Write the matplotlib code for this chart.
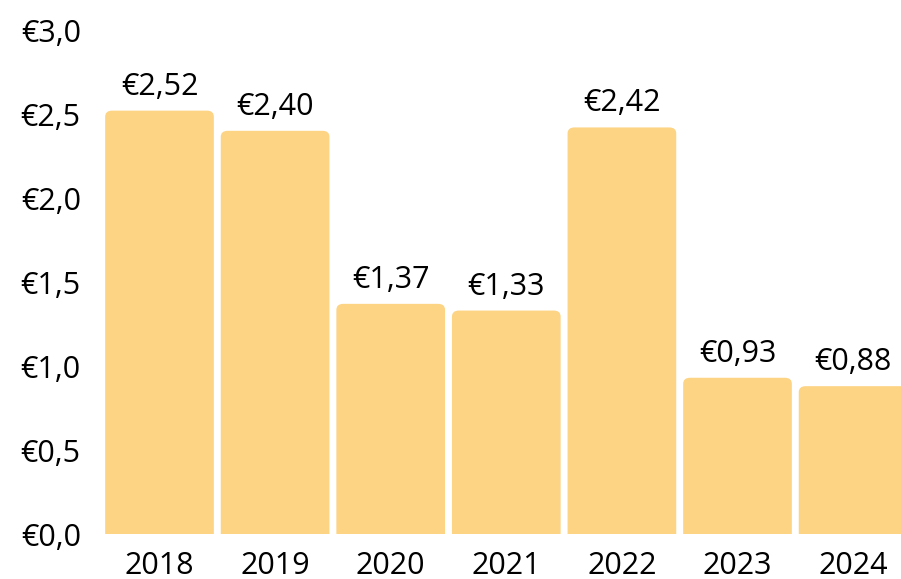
import matplotlib
matplotlib.use('Agg')
import matplotlib.pyplot as plt
from matplotlib.patches import FancyBboxPatch

# yearly values in euro
years = ['2018', '2019', '2020', '2021', '2022', '2023', '2024']
values = [2.52, 2.40, 1.37, 1.33, 2.42, 0.93, 0.88]
yticks = [0.0, 0.5, 1.0, 1.5, 2.0, 2.5, 3.0]

bar_color = '#FDD384'
plt.rcParams['font.family'] = ['Open Sans', 'DejaVu Sans']
plt.rcParams['font.size'] = 22


def euro(v, decimals):
    return '€' + f'{v:.{decimals}f}'.replace('.', ',')


fig = plt.figure(figsize=(9.01, 5.79), dpi=100)
ax = fig.add_axes([101.7 / 901, 45 / 579, 809.2 / 901, 504 / 579])

x = list(range(len(years)))
bars = ax.bar(x, values, width=0.94, color=bar_color)

# swap the plain rectangles for ones with rounded top corners;
# the bottom corners sit below zero and get clipped by the axes
for rect, v in zip(bars, values):
    rect.set_visible(False)
    box = FancyBboxPatch((rect.get_x(), -0.2), rect.get_width(), v + 0.2,
                         boxstyle='round,pad=0,rounding_size=0.06',
                         mutation_aspect=0.6,
                         facecolor=bar_color, edgecolor='none')
    ax.add_patch(box)
    ax.annotate(euro(v, 2), (rect.get_x() + rect.get_width() / 2, v),
                xytext=(0, 11.5), textcoords='offset points',
                ha='center', va='baseline', annotation_clip=False)

ax.set_xlim(-0.5, len(years) - 0.5)
ax.set_ylim(0, 3.0)
ax.set_yticks(yticks)
ax.set_yticklabels([euro(t, 1) for t in yticks])
ax.set_xticks(x)
ax.set_xticklabels(years)
ax.tick_params(axis='y', length=0, pad=15)
ax.tick_params(axis='x', length=0, pad=12)
for s in ax.spines.values():
    s.set_visible(False)

fig.savefig('out.png', dpi=100)
